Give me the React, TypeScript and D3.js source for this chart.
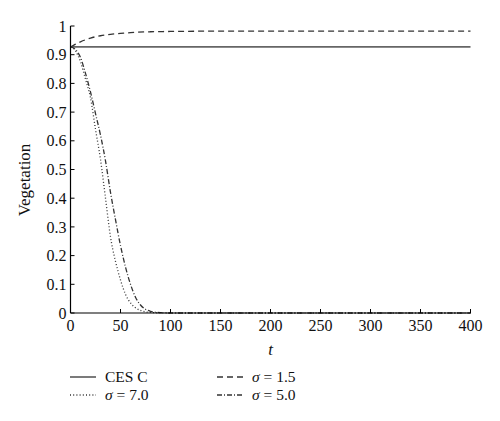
import React from "react";
import * as d3 from "d3";

const tTicks = [0, 50, 100, 150, 200, 250, 300, 350, 400];
const vTicks = [0, 0.1, 0.2, 0.3, 0.4, 0.5, 0.6, 0.7, 0.8, 0.9, 1];

const cesT = [0, 400];
const cesV = [0.927, 0.927];

const s15T = [0, 5, 10, 15, 20, 30, 40, 50, 60, 80, 100, 150, 400];
const s15V = [0.927, 0.937, 0.945, 0.952, 0.958, 0.966, 0.971, 0.974, 0.977, 0.98, 0.981, 0.982, 0.982];

const s70T = [0, 5, 10, 15, 20, 25, 30, 35, 40, 45, 50, 55, 60, 65, 70, 75, 80, 90, 100, 400];
const s70V = [0.927, 0.913, 0.875, 0.815, 0.75, 0.64, 0.535, 0.4, 0.265, 0.18, 0.115, 0.065, 0.035, 0.018, 0.009, 0.004, 0.002, 0.0005, 0, 0];

const s50T = [0, 5, 10, 15, 20, 25, 30, 35, 40, 45, 50, 55, 60, 65, 70, 75, 80, 90, 100, 400];
const s50V = [0.927, 0.918, 0.89, 0.835, 0.77, 0.695, 0.62, 0.53, 0.42, 0.325, 0.235, 0.16, 0.1, 0.055, 0.028, 0.013, 0.006, 0.001, 0, 0];

const seriesNames = ["CES C", "σ = 1.5", "σ = 7.0", "σ = 5.0"];

const FONT = "'Liberation Serif', 'DejaVu Serif', serif";

export default function App() {
  const x = d3.scaleLinear().domain([0, 400]).range([70.5, 470.5]);
  const y = d3.scaleLinear().domain([0, 1]).range([313, 26]);

  const line = d3
    .line<[number, number]>()
    .x((d) => x(d[0]))
    .y((d) => y(d[1]))
    .curve(d3.curveMonotoneX);

  const zip = (a: number[], b: number[]) => a.map((t, i) => [t, b[i]] as [number, number]);

  const series = [
    { name: seriesNames[0], data: zip(cesT, cesV), dash: "none", color: "#666", width: 1.8 },
    { name: seriesNames[1], data: zip(s15T, s15V), dash: "6,4", color: "#333", width: 1.3 },
    { name: seriesNames[2], data: zip(s70T, s70V), dash: "1,2.2", color: "#333", width: 1.3 },
    { name: seriesNames[3], data: zip(s50T, s50V), dash: "5,2,1,2", color: "#333", width: 1.3 },
  ];

  const legendPos = [
    { lx: 70, ly: 377 },
    { lx: 217, ly: 377 },
    { lx: 70, ly: 395 },
    { lx: 217, ly: 395 },
  ];

  const renderLabel = (name: string) => {
    if (name.startsWith("σ")) {
      return (
        <>
          <tspan fontStyle="italic">σ</tspan>
          <tspan>{name.slice(1)}</tspan>
        </>
      );
    }
    return name;
  };

  return (
    <svg
      width={500}
      height={421}
      style={{ position: "absolute", left: 0, top: 0, background: "#fff" }}
      fontFamily={FONT}
    >
      <rect x={0} y={0} width={500} height={421} fill="#fff" />
      {series.map((s) => (
        <path
          key={s.name}
          d={line(s.data) || ""}
          fill="none"
          stroke={s.color}
          strokeWidth={s.width}
          strokeDasharray={s.dash}
        />
      ))}
      <line x1={x(0)} x2={x(0)} y1={y(0)} y2={y(1)} stroke="#000" strokeWidth={1.2} />
      <line x1={x(0)} x2={x(400)} y1={y(0)} y2={y(0)} stroke="#000" strokeWidth={1.2} />
      {vTicks.map((v) => (
        <g key={"v" + v}>
          <line x1={x(0)} x2={x(0) + 4} y1={y(v)} y2={y(v)} stroke="#000" strokeWidth={1} />
          <text x={x(0) - 4} y={y(v)} dy="0.35em" textAnchor="end" fontSize={16} fill="#111">
            {v === 0 ? "0" : v === 1 ? "1" : v.toFixed(1)}
          </text>
        </g>
      ))}
      {tTicks.map((t) => (
        <g key={"t" + t}>
          <line x1={x(t)} x2={x(t)} y1={y(0)} y2={y(0) - 4} stroke="#000" strokeWidth={1} />
          <text x={x(t)} y={331} textAnchor="middle" fontSize={16} fill="#111">
            {t}
          </text>
        </g>
      ))}
      <text x={x(200)} y={355} textAnchor="middle" fontSize={17} fontStyle="italic" fill="#111">
        t
      </text>
      <text
        transform={`translate(30, 180) rotate(-90)`}
        textAnchor="middle"
        fontSize={17}
        fill="#111"
      >
        Vegetation
      </text>
      {series.map((s, i) => {
        const p = legendPos[i];
        return (
          <g key={"lg" + i}>
            <line
              x1={p.lx}
              x2={p.lx + 26}
              y1={p.ly}
              y2={p.ly}
              stroke={s.color === "#666" ? "#333" : s.color}
              strokeWidth={1.3}
              strokeDasharray={s.dash}
            />
            <text x={p.lx + 35} y={p.ly} dy="0.35em" fontSize={15.5} fill="#111">
              {renderLabel(s.name)}
            </text>
          </g>
        );
      })}
    </svg>
  );
}
